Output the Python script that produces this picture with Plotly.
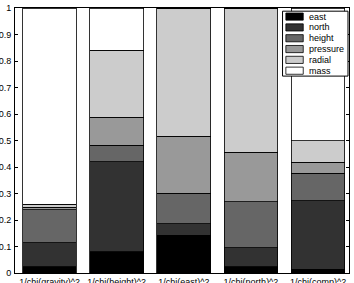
import plotly.graph_objects as go

categories = ["1/chi(gravity)^2", "1/chi(height)^2", "1/chi(east)^2", "1/chi(north)^2", "1/chi(comp)^2"]
series_names = ["east", "north", "height", "pressure", "radial", "mass"]
east = [0.024, 0.080, 0.143, 0.024, 0.015]
north = [0.090, 0.340, 0.042, 0.072, 0.258]
height = [0.124, 0.063, 0.116, 0.173, 0.103]
pressure = [0.010, 0.105, 0.216, 0.186, 0.042]
radial = [0.012, 0.253, 0.483, 0.545, 0.081]
mass = [0.740, 0.159, 0.000, 0.000, 0.501]
colors = ["#000000", "#323232", "#666666", "#999999", "#cccccc", "#ffffff"]
ytick_vals = [0, 0.1, 0.2, 0.3, 0.4, 0.5, 0.6, 0.7, 0.8, 0.9, 1]
ytick_text = ["0", "0.1", "0.2", "0.3", "0.4", "0.5", "0.6", "0.7", "0.8", "0.9", "1"]

series = [east, north, height, pressure, radial, mass]
xpos = list(range(1, len(categories) + 1))

fig = go.Figure()
for name, vals, col in zip(series_names, series, colors):
    fig.add_trace(go.Bar(
        x=xpos, y=vals, name=name, width=0.8,
        marker=dict(color=col, line=dict(color="#000000", width=0.8)),
        showlegend=False,
    ))

font = "Liberation Sans, Arial, Helvetica, sans-serif"

# manual legend (compact, like the reference)
lx0, lx1, ly_top, ly_bot = 0.801, 0.997, 0.988, 0.743
shapes = [dict(type="rect", xref="paper", yref="paper", x0=lx0, x1=lx1, y0=ly_bot, y1=ly_top,
               line=dict(color="#000000", width=1), fillcolor="#ffffff", layer="above")]
annotations = []
row_h = (ly_top - ly_bot) / 6.0
for i, (name, col) in enumerate(zip(series_names, colors)):
    yc = ly_top - row_h * (i + 0.5)
    shapes.append(dict(type="rect", xref="paper", yref="paper",
                       x0=0.811, x1=0.863, y0=yc - 0.0135, y1=yc + 0.0135,
                       line=dict(color="#000000", width=0.8), fillcolor=col, layer="above"))
    annotations.append(dict(xref="paper", yref="paper", x=0.875, y=yc, text=name,
                            showarrow=False, xanchor="left", yanchor="middle",
                            font=dict(family=font, size=9, color="#000000")))

fig.update_layout(
    barmode="stack",
    width=354, height=283,
    margin=dict(l=15, r=5, t=8, b=10),
    paper_bgcolor="#ffffff", plot_bgcolor="#ffffff",
    font=dict(family=font, size=9, color="#000000"),
    shapes=shapes, annotations=annotations,
    bargap=0.2,
)
fig.update_xaxes(
    range=[0.485, 5.46], tickvals=xpos, ticktext=categories, ticks="",
    showline=True, linecolor="#000000", linewidth=1, mirror=True,
    showgrid=False, zeroline=False, automargin=False,
    tickfont=dict(family=font, size=9),
)
fig.update_yaxes(
    range=[0, 1], tickvals=ytick_vals, ticktext=ytick_text,
    ticks="inside", ticklen=3, tickcolor="#000000",
    showline=True, linecolor="#000000", linewidth=1, mirror="ticks",
    showgrid=False, zeroline=False, automargin=False,
    tickfont=dict(family=font, size=9), ticklabelstandoff=1,
)

fig.write_html("out.html")
